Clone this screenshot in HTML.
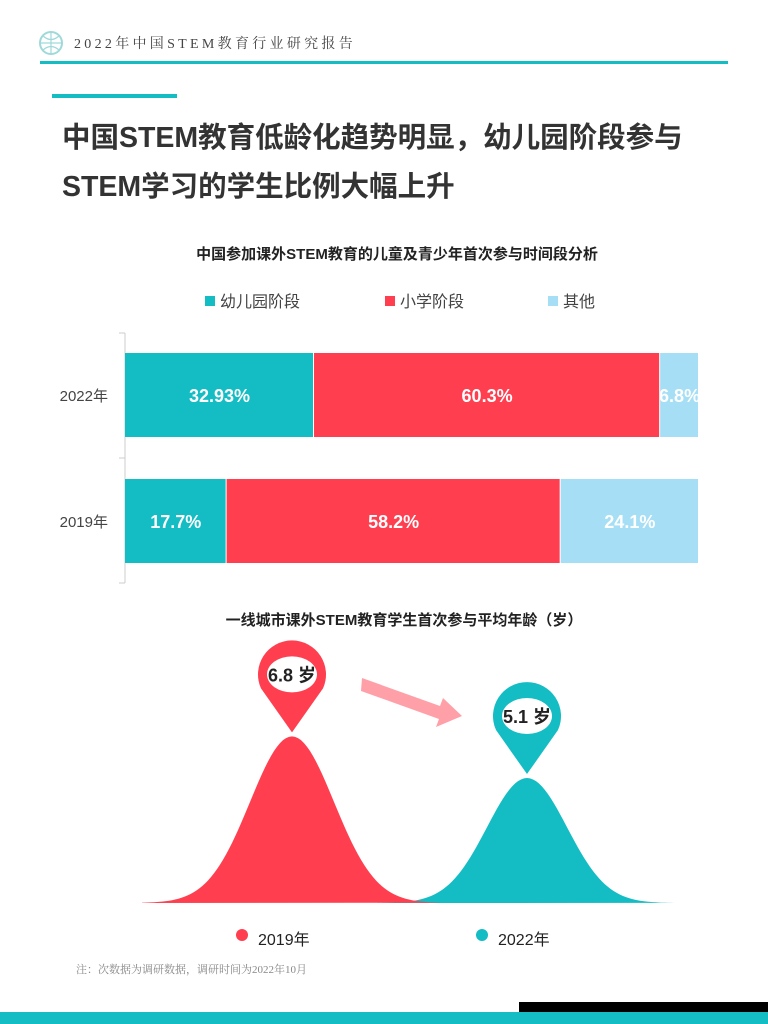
<!DOCTYPE html>
<html><head><meta charset="utf-8"><style>
body{margin:0;background:#fff;}
svg{display:block;font-family:"Liberation Sans","Noto Sans CJK SC",sans-serif;}
</style></head><body>
<svg id="s" width="768" height="1024" viewBox="0 0 768 1024">
<g>
<circle cx="51" cy="43" r="11" fill="none" stroke="#9fd9d9" stroke-width="2"/>
<path d="M40 43h22M51 32v22M43 36q8 7 16 0M43 50q8-7 16 0" stroke="#9fd9d9" fill="none" stroke-width="1.2"/>
<text x="74" y="48" font-size="14" fill="#444" letter-spacing="3.3" font-family="Liberation Serif,Noto Serif CJK SC,serif">2022年中国STEM教育行业研究报告</text>
<rect x="40" y="61" width="688" height="3" fill="#14bcc4"/>
</g>
<rect x="52" y="94" width="125" height="4" fill="#14bcc4"/>
<text x="62" y="147" font-size="28.5" font-weight="bold" fill="#333">中国STEM教育低龄化趋势明显，幼儿园阶段参与</text>
<text x="62" y="196" font-size="28.5" font-weight="bold" fill="#333">STEM学习的学生比例大幅上升</text>
<text x="397" y="259" font-size="15" font-weight="bold" fill="#222" text-anchor="middle">中国参加课外STEM教育的儿童及青少年首次参与时间段分析</text>
<g id="legend1"></g>
<g id="bars"></g>
<text x="404" y="625" font-size="15" font-weight="bold" fill="#222" text-anchor="middle">一线城市课外STEM教育学生首次参与平均年龄（岁）</text>
<g id="curves"></g>
<polygon points="362,678 440,706 443,698 462,716 436,727 439,719 361,691" fill="#ffa0a8"/>
<g id="legend2"></g>
<text x="76" y="973" font-size="11" fill="#888" font-family="Liberation Serif,Noto Serif CJK SC,serif">注：次数据为调研数据，调研时间为2022年10月</text>
<rect x="519" y="1002" width="249" height="11" fill="#000"/>
<rect x="0" y="1012" width="768" height="12" fill="#14bcc4"/>
</svg>
<script>
const years=['2022年','2019年'];
const seriesNames=['幼儿园阶段','小学阶段','其他'];
const kinder=[32.93,17.7];
const primary=[60.3,58.2];
const other=[6.8,24.1];
const labels=[['32.93%','60.3%','6.8%'],['17.7%','58.2%','24.1%']];
const ageYears=['2019年','2022年'];
const ages=[6.8,5.1];
const colors=['#14bcc4','#ff3f4f','#a6dff5'];
const NS='http://www.w3.org/2000/svg';
function mk(p,t,a){const e=document.createElementNS(NS,t);for(const k in a)e.setAttribute(k,a[k]);p.appendChild(e);return e;}
const x0=125,x1=699;
const xs=v=>x0+(x1-x0)*v/100;
const ys=i=>353+i*126;
const bh=84;
const bars=document.getElementById('bars');
const ax=mk(bars,'path',{d:'M125 333V583M119 333H125M119 458H125M119 583H125',stroke:'#ccc',fill:'none'});


const l1=document.getElementById('legend1');
const lx=[205,385,548];
seriesNames.forEach((n,i)=>{
 const r=mk(l1,'rect',{x:lx[i],y:296,width:10,height:10,fill:colors[i]});
 
 
 const t=mk(l1,'text',{x:lx[i]+15,y:307,'font-size':16,fill:'#444'});t.textContent=n;
 
 
});
years.forEach((y,i)=>{
 const vals=[kinder[i],primary[i],other[i]];
 const t=mk(bars,'text',{x:108,y:ys(i)+bh/2+6,'font-size':15,fill:'#444','text-anchor':'end'});t.textContent=y;
 
 
 let acc=0;
 vals.forEach((v,j)=>{
  const a=xs(acc),b=xs(Math.min(100,acc+v));acc+=v;
  const r=mk(bars,'rect',{x:a,y:ys(i),width:Math.max(0,b-a-1),height:bh,fill:colors[j]});
  
  
  const tt=mk(bars,'text',{x:(a+b)/2,y:ys(i)+bh/2+7,'font-size':18,'font-weight':'bold',fill:'#fff','text-anchor':'middle'});tt.textContent=labels[i][j];
  
  
 });
});
const cv=document.getElementById('curves');
const base=903;
const hs=a=>a*24.5;
const cx=[292,527], sig=[42,40], cc=['#ff3f4f','#14bcc4'];
[1,0].forEach(i=>{
 const h=hs(ages[i]);let d='M'+(cx[i]-150)+' '+base;
 for(let x=-150;x<=150;x+=3){d+=' L'+(cx[i]+x)+' '+(base-h*Math.exp(-x*x/(2*sig[i]*sig[i])));}
 d+=' Z';
 const p=mk(cv,'path',{d:d,fill:cc[i]});
 
 
});
ages.forEach((a,i)=>{
 const top=base-hs(a)-4,cy=top-58;
 const g=mk(cv,'g',{});
 
 
 mk(g,'path',{d:`M${cx[i]-31} ${cy+14} A34 34 0 1 1 ${cx[i]+31} ${cy+14} L${cx[i]} ${top} Z`,fill:cc[i]});
 mk(g,'ellipse',{cx:cx[i],cy:cy,rx:25,ry:18,fill:'#fff'});
 const t=mk(g,'text',{x:cx[i],y:cy+7,'font-size':18,'font-weight':'bold',fill:'#222','text-anchor':'middle'});t.textContent=a+' 岁';
});
const l2=document.getElementById('legend2');
const l2x=[242,482];
ageYears.forEach((y,i)=>{
 const c=mk(l2,'circle',{cx:l2x[i],cy:935,r:6,fill:cc[i]});
 
 
 const t=mk(l2,'text',{x:l2x[i]+16,y:945,'font-size':16,fill:'#222'});t.textContent=y;
 
 
});
</script>
</body></html>
